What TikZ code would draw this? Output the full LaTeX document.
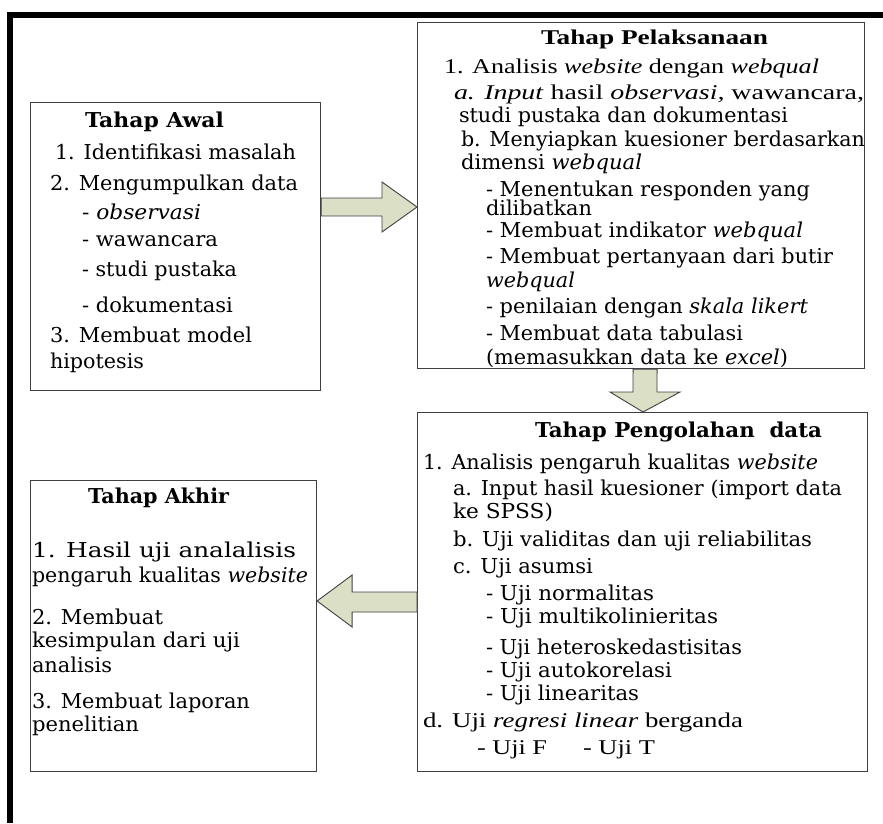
\documentclass[tikz,border=0pt]{standalone}
\usepackage{fontspec}
\setmainfont{DejaVu Serif}
\newfontfamily\tms{Liberation Serif}
\usepackage{graphicx}
\usetikzlibrary{calc}
\definecolor{arrowfill}{RGB}{218,223,198}
\newcommand\fitw[2]{\resizebox{#1pt}{\height}{#2}}
\tikzset{
  txt/.style={inner sep=0pt, outer sep=0pt, anchor=base west, font=\fontsize{20.5}{23}\selectfont},
  tm/.style={txt, font=\tms\fontsize{21}{24}\selectfont},
  box/.style={draw=black!75, line width=1.1pt, rectangle, inner sep=0pt, anchor=north west},
  blk/.style={draw=black!75, line width=0.9pt, fill=arrowfill, line join=miter},
  frame/.style={line width=6pt, line join=miter}
}
\begin{document}
\begin{tikzpicture}[x=1pt,y=-1pt]
\useasboundingbox (0,0) rectangle (883,823);
% page frame
\draw[frame] (10,823) -- (10,15) -- (883,15);
% boxes
\node[box, minimum width=290, minimum height=288] (awal) at (30,102) {};
\node[box, minimum width=447, minimum height=346] (pel) at (417,22) {};
\node[box, minimum width=450, minimum height=359] (olah) at (417,412) {};
\node[box, minimum width=286, minimum height=291] (akhir) at (30,480) {};
% arrows
\coordinate (s1) at ($(awal.north east)+(0,105)$);
\coordinate (e1) at (pel.west |- s1);
\draw[blk] ($(s1)+(0,-9)$) -- ($(e1)+(-35,-9)$) -- ($(e1)+(-35,-25)$) -- (e1)
  -- ($(e1)+(-35,25)$) -- ($(e1)+(-35,9)$) -- ($(s1)+(0,9)$) -- cycle;
\coordinate (s2) at ($(pel.south)+(4,0)$);
\coordinate (e2) at ($(olah.north west)+(226,0)$);
\draw[blk] ($(s2)+(-12,0)$) -- ($(e2)+(-10,-20)$) -- ($(e2)+(-33,-20)$) -- (e2)
  -- ($(e2)+(37,-20)$) -- ($(e2)+(14,-20)$) -- ($(s2)+(12,0)$) -- cycle;
\coordinate (s3) at ($(olah.north west)+(0,190)$);
\coordinate (e3) at ($(akhir.north east)+(0,121)$);
\draw[blk] ($(s3)+(0,-10)$) -- ($(e3)+(35,-9)$) -- ($(e3)+(35,-26)$) -- (e3)
  -- ($(e3)+(35,26)$) -- ($(e3)+(35,11)$) -- ($(s3)+(0,10)$) -- cycle;
% Tahap Awal
\node[txt] (a0) at (85,127) {\fitw{139}{\bfseries Tahap Awal}};
\node[txt] (a1) at (55,159) {\fitw{241}{1. Identifikasi masalah}};
\node[txt] (a2) at (50,190) {\fitw{248}{2. Mengumpulkan data}};
\node[txt] (a3) at (82,219) {\fitw{119}{- \textit{observasi}}};
\node[txt] (a4) at (82,246) {\fitw{136}{- wawancara}};
\node[txt] (a5) at (82,276) {\fitw{155}{- studi pustaka}};
\node[txt] (a6) at (82,312) {\fitw{151}{- dokumentasi}};
\node[txt] (a7) at (50,342) {\fitw{202}{3. Membuat model}};
\node[txt] (a8) at (50,368) {\fitw{94}{hipotesis}};
% Tahap Pelaksanaan
\node[tm] (p0) at (541,44) {\fitw{227}{\bfseries Tahap Pelaksanaan}};
\node[tm] (p1) at (444,73) {\fitw{375}{1. Analisis \textit{website} dengan \textit{webqual}}};
\node[tm] (p2) at (454,99) {\fitw{410}{\textit{a. Input} hasil \textit{observasi,} wawancara,}};
\node[txt] (p3) at (459,122) {\fitw{329}{studi pustaka dan dokumentasi}};
\node[txt] (p4) at (461,146) {\fitw{404}{b. Menyiapkan kuesioner berdasarkan}};
\node[txt] (p5) at (461,169) {\fitw{181}{dimensi \textit{webqual}}};
\node[txt] (p6) at (486,196) {\fitw{324}{- Menentukan responden yang}};
\node[txt] (p7) at (486,215) {\fitw{106}{dilibatkan}};
\node[txt] (p8) at (486,237) {\fitw{317}{- Membuat indikator \textit{webqual}}};
\node[txt] (p9) at (486,263) {\fitw{347}{- Membuat pertanyaan dari butir}};
\node[txt] (p10) at (486,287) {\fitw{89}{\textit{webqual}}};
\node[txt] (p11) at (486,313) {\fitw{322}{- penilaian dengan \textit{skala likert}}};
\node[txt] (p12) at (486,340) {\fitw{257}{- Membuat data tabulasi}};
\node[txt] (p13) at (486,364) {\fitw{302}{(memasukkan data ke \textit{excel})}};
% Tahap Pengolahan data
\node[txt] (o0) at (535,437) {\fitw{287}{\bfseries Tahap Pengolahan\ \ data}};
\node[txt] (o1) at (423,469) {\fitw{395}{1. Analisis pengaruh kualitas \textit{website}}};
\node[txt] (o2) at (453,495) {\fitw{389}{a. Input hasil kuesioner (import data}};
\node[txt] (o3) at (453,518) {\fitw{100}{ke SPSS)}};
\node[txt] (o4) at (453,546) {\fitw{359}{b. Uji validitas dan uji reliabilitas}};
\node[txt] (o5) at (453,573) {\fitw{140}{c. Uji asumsi}};
\node[txt] (o6) at (486,600) {\fitw{168}{- Uji normalitas}};
\node[txt] (o7) at (486,623) {\fitw{232}{- Uji multikolinieritas}};
\node[txt] (o8) at (486,654) {\fitw{256}{- Uji heteroskedastisitas}};
\node[txt] (o9) at (486,677) {\fitw{186}{- Uji autokorelasi}};
\node[txt] (o10) at (486,700) {\fitw{153}{- Uji linearitas}};
\node[tm] (o11) at (423,727) {\fitw{320}{d. Uji \textit{regresi linear} berganda}};
\node[tm] (o12) at (477,754) {\fitw{70}{- Uji F}};
\node[tm] (o13) at (583,754) {\fitw{72}{- Uji T}};
% Tahap Akhir
\node[txt] (k0) at (88,503) {\fitw{141}{\bfseries Tahap Akhir}};
\node[txt] (k1) at (32,557) {\fitw{264}{1. Hasil uji analalisis}};
\node[txt] (k2) at (32,582) {\fitw{276}{pengaruh kualitas \textit{website}}};
\node[txt] (k3) at (32,624) {\fitw{131}{2. Membuat}};
\node[txt] (k4) at (32,647) {\fitw{208}{kesimpulan dari uji}};
\node[txt] (k5) at (32,672) {\fitw{80}{analisis}};
\node[txt] (k6) at (32,708) {\fitw{218}{3. Membuat laporan}};
\node[txt] (k7) at (32,731) {\fitw{107}{penelitian}};
\end{tikzpicture}
\end{document}
